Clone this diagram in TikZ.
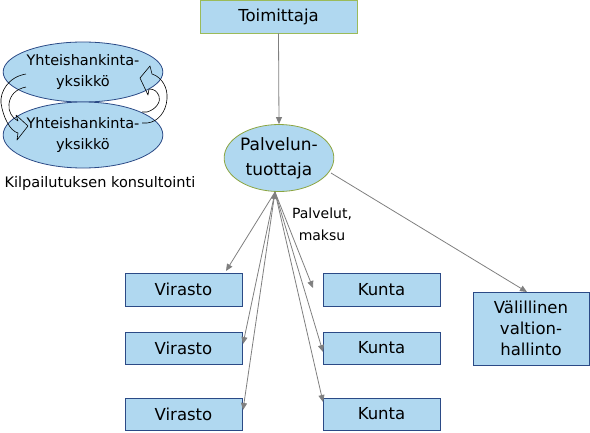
\documentclass[tikz,border=0pt]{standalone}
\usepackage{fontspec}
\setmainfont{DejaVu Sans}
\usetikzlibrary{shapes.geometric,arrows.meta,calc}
\definecolor{fillblue}{HTML}{B0D8F0}
\definecolor{navy}{HTML}{2B4A86}
\definecolor{leafgreen}{HTML}{9BBB59}
\definecolor{olive}{HTML}{8CA540}
\definecolor{arrowgray}{HTML}{7F7F7F}
\begin{document}
\begin{tikzpicture}[x=1pt,y=-1pt,
  box/.style={draw=navy, fill=fillblue, line width=0.8pt, minimum width=117pt,
    minimum height=33pt, inner sep=0pt, align=center,
    font=\fontsize{16.5}{21}\selectfont},
  ellbox/.style={ellipse, draw=navy, fill=fillblue, line width=0.8pt, inner sep=0pt,
    align=center, font=\fontsize{14.5}{21}\selectfont},
  conn/.style={draw=arrowgray, line width=0.8pt, -{Triangle[length=7pt,width=6pt]}},
  bothconn/.style={draw=arrowgray, line width=0.8pt,
    {Triangle[length=7pt,width=6pt]}-{Triangle[length=7pt,width=6pt]}},
  curvarrow/.style={draw=black, line width=0.6pt, line join=round},
  lbl/.style={inner sep=0pt, align=center, font=\fontsize{14}{22}\selectfont}]
\useasboundingbox (0,0) rectangle (590,432);

% top supplier
\node[box, draw=leafgreen, minimum width=157pt, minimum height=33pt] (toim) at (278.5,16.5) {Toimittaja};

% service producer
\node[ellipse, draw=olive, fill=fillblue, line width=0.8pt, minimum width=108pt,
  minimum height=67pt, inner sep=0pt, align=center,
  font=\fontsize{17}{25}\selectfont] (pt) at (279,158) {Palvelun-\\tuottaja};

% joint procurement units
\node[ellbox, minimum width=116pt, minimum height=60pt] (y1) at (83,72) {Yhteishankinta-\\yksikkö};
\node[ellbox, minimum width=116pt, minimum height=66pt] (y2) at (83,135) {Yhteishankinta-\\yksikkö};
\node[lbl, font=\fontsize{14.5}{18}\selectfont] (kilp) at (100,183) {Kilpailutuksen konsultointi};

% curved block arrows
\draw[curvarrow] (26,74) .. controls (8,77) and (0,92) .. (1,103)
  .. controls (3,117) and (10,131) .. (18,133) -- (17,140) -- (28,126) -- (16,115) -- (18,121)
  .. controls (12,118) and (8,111) .. (9,104) .. controls (10,95) and (16,89) .. (26,87);
\draw[curvarrow] (142,112) -- (147,112) .. controls (157,109) and (161,101) .. (159,96)
  .. controls (157,91) and (154,89) .. (149,89) -- (148,95) -- (140,78) -- (150,66) -- (152,74)
  .. controls (162,77) and (168,88) .. (167,99) .. controls (166,112) and (158,122) .. (147,123) -- (142,123);

% recipients
\node[box] (v1) at (183.5,289.5) {Virasto};
\node[box, minimum height=32pt] (v2) at (183.5,348) {Virasto};
\node[box, minimum height=32pt] (v3) at (183.5,414) {Virasto};
\node[box] (k1) at (381.5,289.5) {Kunta};
\node[box, minimum height=32pt] (k2) at (381.5,348) {Kunta};
\node[box, minimum height=32pt] (k3) at (381.5,414) {Kunta};
\node[box, minimum width=116pt, minimum height=73pt] (val) at (531,328.5) {Välillinen\\valtion-\\hallinto};

\node[lbl] (pm) at (322,224) {Palvelut,\\maksu};

% connector endpoints
\coordinate (src) at (275,192);
\coordinate (v1t) at (226,271);
\coordinate (v2t) at (243,344);
\coordinate (v3t) at (243,410);
\coordinate (k1t) at (313,288);
\coordinate (k2t) at (323,352);
\coordinate (k3t) at (323,402);
\coordinate (vals) at (331,173);
\coordinate (valt) at (527,292);

% connectors
\draw[conn] (toim.south) -- (pt.north);
\draw[conn] (src) -- (v1t);
\draw[conn] (src) -- (v2t);
\draw[bothconn] (src) -- (v3t);
\draw[conn] (src) -- (k1t);
\draw[conn] (src) -- (k2t);
\draw[conn] (src) -- (k3t);
\draw[conn] (vals) -- (valt);
\end{tikzpicture}
\end{document}
